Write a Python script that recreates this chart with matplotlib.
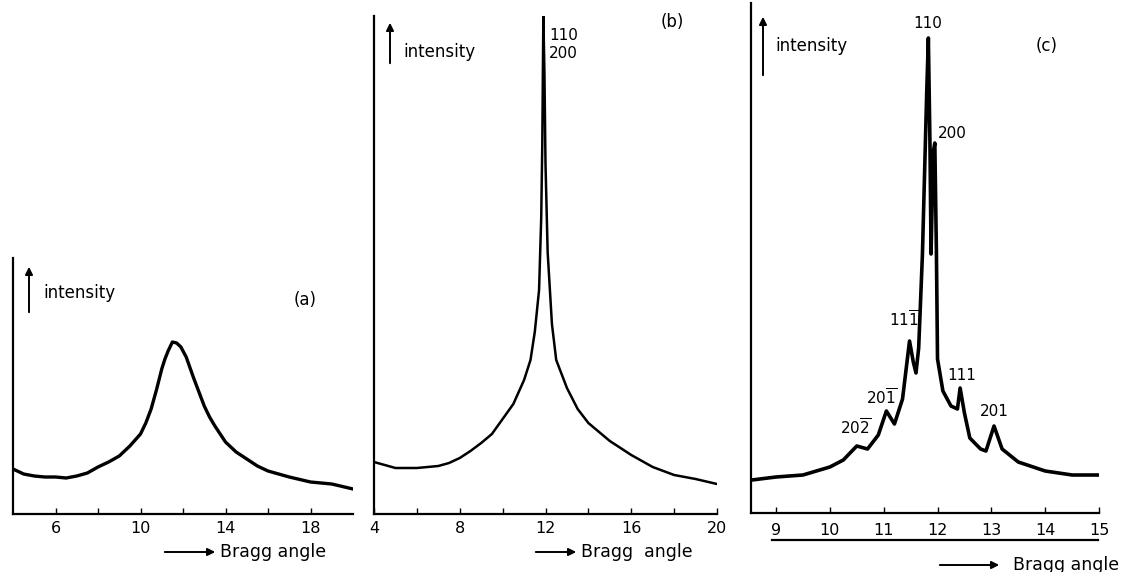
import matplotlib
matplotlib.use("Agg")
import matplotlib.pyplot as plt
from matplotlib.lines import Line2D
from matplotlib.patches import FancyArrowPatch

# ---- data (intensity in arbitrary units) ----
a_angle = [4, 4.5, 5, 5.5, 6, 6.5, 7, 7.5, 8, 8.5, 9, 9.5, 10, 10.25, 10.5,
           10.75, 11, 11.15, 11.3, 11.5, 11.7, 11.9, 12.15, 12.3, 12.5, 12.75,
           13, 13.25, 13.5, 13.75, 14, 14.5, 15, 15.5, 16, 17, 18, 19, 20]
a_int = [45, 40, 38, 37, 37, 36, 38, 41, 47, 52, 58, 68, 80, 91, 105,
         124, 145, 155, 163, 172, 171, 167, 157, 148, 136, 122,
         108, 97, 88, 80, 72, 62, 55, 48, 43, 37, 32, 30, 25]

b_angle = [4, 5, 6, 7, 7.5, 8, 8.5, 9, 9.5, 10, 10.5, 11, 11.3, 11.5, 11.7, 11.8,
           11.85, 11.9, 11.95, 12.0, 12.1, 12.3, 12.5, 13, 13.5, 14, 15, 16, 17,
           18, 19, 20]
b_int = [52, 46, 46, 48, 51, 56, 63, 71, 80, 95, 110, 134, 154, 182, 224, 296,
         370, 499, 441, 350, 262, 190, 154, 126, 105, 91, 73, 59, 47,
         39, 35, 30]

c_angle = [8.55, 9, 9.5, 10, 10.25, 10.5, 10.7, 10.9, 11.05, 11.2, 11.35, 11.48,
           11.55, 11.6, 11.65, 11.72, 11.8, 11.83, 11.86, 11.88, 11.92, 11.95,
           11.98, 12.0, 12.1, 12.25, 12.37, 12.42, 12.5, 12.6, 12.8, 12.9, 13.05,
           13.2, 13.5, 14, 14.5, 15]
c_int = [33, 36, 38, 46, 53, 67, 64, 78, 102, 89, 114, 172,
         151, 140, 165, 259, 422, 475, 368, 259, 361, 370,
         259, 154, 122, 107, 104, 125, 100, 75, 64, 62, 87,
         64, 51, 42, 38, 38]

a_ticks = [6, 8, 10, 12, 14, 16, 18]
a_labels = ["6", "", "10", "", "14", "", "18"]
b_ticks = [4, 6, 8, 10, 12, 14, 16, 18, 20]
b_labels = ["4", "", "8", "", "12", "", "16", "", "20"]
c_ticks = [9, 10, 11, 12, 13, 14, 15]
c_labels = ["9", "10", "11", "12", "13", "14", "15"]

c_peaks = ["110", "200", r"$11\overline{1}$", r"$20\overline{1}$",
           r"$20\overline{2}$", "111", "201"]

W, H = 1121, 572
plt.rcParams["font.family"] = ["DejaVu Sans"]
plt.rcParams["mathtext.default"] = "regular"

fig = plt.figure(figsize=(W / 100, H / 100), dpi=100)


def rect(l, r, top, bottom):
    return [l / W, 1 - bottom / H, (r - l) / W, (bottom - top) / H]


def fp(x, y):
    # pixel position (from top-left) -> figure fraction
    return (x / W, 1 - y / H)


def setup(ax, ticks, labels, pad):
    for s in ["top", "right"]:
        ax.spines[s].set_visible(False)
    for s in ["left", "bottom"]:
        ax.spines[s].set_linewidth(1.6)
    ax.set_yticks([])
    ax.set_xticks(ticks)
    ax.set_xticklabels(labels)
    ax.tick_params(axis="x", direction="in", length=4, width=1, pad=pad,
                   labelsize=11.5)


def arrow(p0, p1):
    fig.add_artist(FancyArrowPatch(fp(*p0), fp(*p1), transform=fig.transFigure,
                                   arrowstyle="-|>", mutation_scale=11,
                                   lw=1.4, color="black"))


# (a)
ax_a = fig.add_axes(rect(13, 353, 258, 514))
ax_a.plot(a_angle, a_int, color="black", lw=2.4)
ax_a.set_xlim(4, 20)
ax_a.set_ylim(0, 256)
setup(ax_a, a_ticks, a_labels, 5)

# (b)
ax_b = fig.add_axes(rect(374, 717, 16, 514))
ax_b.plot(b_angle, b_int, color="black", lw=1.8)
ax_b.set_xlim(4, 20)
ax_b.set_ylim(0, 498)
setup(ax_b, b_ticks, b_labels, 5)

# (c)
ax_c = fig.add_axes(rect(751, 1099, 3, 513))
ax_c.plot(c_angle, c_int, color="black", lw=2.6)
ax_c.set_xlim(8.535, 15.0)
ax_c.set_ylim(0, 510)
setup(ax_c, c_ticks, c_labels, 7)
fig.add_artist(Line2D([772 / W, 1098 / W], [1 - 540 / H, 1 - 540 / H],
                      transform=fig.transFigure, color="black", lw=1.6))

# intensity arrows and labels
arrow((29, 315), (29, 264))
fig.text(*fp(43, 293), "intensity", fontsize=12, va="center", ha="left")
fig.text(*fp(305, 300), "(a)", fontsize=12, va="center", ha="center")

arrow((390, 66), (390, 20))
fig.text(*fp(403, 52), "intensity", fontsize=12, va="center", ha="left")
fig.text(*fp(672, 22), "(b)", fontsize=12, va="center", ha="center")
fig.text(*fp(549, 35), "110", fontsize=11, va="center", ha="left")
fig.text(*fp(549, 54), "200", fontsize=11, va="center", ha="left")

arrow((763, 78), (763, 14))
fig.text(*fp(775, 46), "intensity", fontsize=12, va="center", ha="left")
fig.text(*fp(1047, 46), "(c)", fontsize=12, va="center", ha="center")

c_label_px = [(928, 24), (952, 134), (905, 320), (882, 398),
              (856, 428), (962, 376), (994, 412)]
for txt, (px, py) in zip(c_peaks, c_label_px):
    fig.text(*fp(px, py), txt, fontsize=11, va="center", ha="center")

# Bragg angle arrows
arrow((162, 552), (218, 552))
fig.text(*fp(220, 552), "Bragg angle", fontsize=12.5, va="center", ha="left")
arrow((533, 552), (579, 552))
fig.text(*fp(581, 552), "Bragg  angle", fontsize=12.5, va="center", ha="left")
arrow((937, 565), (1002, 565))
fig.text(*fp(1013, 565), "Bragg angle", fontsize=12.5, va="center", ha="left")

fig.savefig("out.png", dpi=100)
